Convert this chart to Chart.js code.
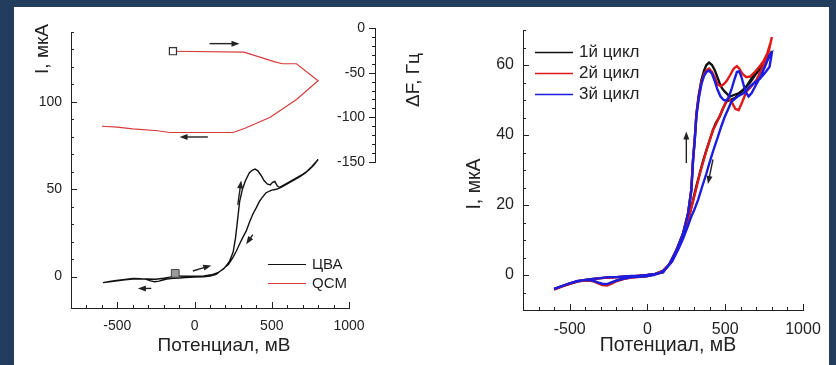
<!DOCTYPE html>
<html>
<head>
<meta charset="utf-8">
<script src="https://cdn.jsdelivr.net/npm/chart.js@4.4.0/dist/chart.umd.min.js"></script>
<style>
    body { margin: 0; background: #223d5e; }
    #sheet { position: absolute; left: 14px; top: 7px; width: 815px; height: 358px; background: #fff; }
    canvas { position: absolute; left: 0; top: 0; }
</style>
</head>
<body>
<div id="sheet"></div>
<canvas id="cva" width="836" height="365"></canvas>
<canvas id="qcm" width="836" height="365"></canvas>
<canvas id="cycles" width="836" height="365"></canvas>
<script>
// series names
const cvaName = 'ЦВА';
const qcmName = 'QCM';
const cycleNames = ['1й цикл', '2й цикл', '3й цикл'];

// tick labels
const potentialLabels = [-500, 0, 500, 1000];
const cvaCurrentLabels = [0, 50, 100];
const dfLabels = [0, -50, -100, -150];
const cycleCurrentLabels = [0, 20, 40, 60];

// left panel, CV scan: start -130 mV -> 800 -> -600 -> back to start
const cvaE = [-130, -60, 0, 60, 110, 150, 190, 225, 250, 265, 278, 292, 310, 330, 355, 375, 392, 410, 430, 450,
    470, 490, 505, 520, 535, 550, 580, 620, 660, 700, 740, 770, 800,
    760, 720, 680, 640, 600, 560, 530, 500, 463, 440, 420, 400, 377, 355, 334, 310, 291, 270, 248,
    220, 194, 165, 140, 100, 60, 0, -60, -100, -140, -180, -205, -230, -259, -285, -312, -350, -399, -450, -506,
    -550, -593, -550, -500, -450, -400, -350, -300, -250, -200, -160, -130];
const cvaI = [0.4, 0.2, 0.2, 0.4, 1, 2.2, 4.5, 8.5, 14, 22, 32, 43, 50, 55, 59.5, 61, 61.5, 60.5, 58, 55,
    53, 52.5, 54, 54.5, 52, 51, 52.5, 54.5, 56.5, 58.5, 61, 63.5, 67,
    63, 59.5, 57, 55, 53, 51, 50, 49.5, 48, 45.5, 43, 39.5, 35.7, 31, 26, 22, 18.5, 14.5, 10.8,
    7, 5, 3, 1.3, 0.3, -0.2, -0.3, -0.5, -0.8, -1, -1.5, -2, -2.6, -3, -2.5, -1.6, -1.2, -1.1, -1.6, -2.2,
    -2.8, -3.5, -3, -2.4, -1.8, -1.4, -1.3, -1.4, -1.5, -1, -0.3, 0.4];
const cvaStart = [{x: -125, y: 1.8}];

// left panel, quartz microbalance frequency shift
const qcmE = [-140, 320, 520, 570, 660, 800, 660, 490, 330, 250, -160, -240, -400, -500, -600];
const qcmF = [-26, -27, -38, -40, -40, -59, -80, -100, -112, -117, -117, -115, -113, -111, -110];

// right panel, three successive cycles (-600 -> 800 -> -600)
const cycle1E = [-600, -550, -500, -450, -400, -350, -300, -250, -200, -150, -100, -50, 0, 50, 100, 143, 186, 229, 261, 282,
    293, 304, 315, 330, 347, 365, 379, 396, 415, 432, 450, 464, 480, 497, 510, 530, 560, 590, 614, 660,
    700, 740, 764, 785, 800,
    785, 760, 721, 690, 660, 636, 600, 561, 530, 507, 485, 464, 440, 421, 400, 379, 357, 336, 315, 293,
    272, 250, 220, 190, 150, 100, 50, 0, -50, -100, -150, -200, -230, -260, -290, -320, -350, -400, -450, -500,
    -550, -600];
const cycle1I = [-4, -3.2, -2.4, -1.8, -1.4, -1.1, -0.9, -0.7, -0.6, -0.5, -0.4, -0.2, 0, 0.3, 0.8, 3.3, 7.1, 11.9, 17.6, 24.3,
    32.9, 38.6, 46.2, 51.5, 55.7, 58.5, 60, 60.7, 60, 58.6, 56.5, 54.8, 53.3, 52.4, 51.8, 51, 51.5, 52, 52.9, 55,
    57.6, 59.5, 61, 62.5, 64,
    62.5, 61.5, 59.5, 57.5, 55.5, 53.8, 52, 50.5, 50, 49.5, 47.5, 45.2, 43.5, 41.4, 38.5, 35.7, 32.5, 29, 25.5, 21.4,
    17.6, 14, 10, 7, 3.5, 1.2, 0.3, -0.3, -0.5, -0.6, -1, -1.6, -2.2, -2.8, -2.7, -2.2, -1.7, -1.5, -1.8, -2.5,
    -3.2, -4];

const cycle2E = [-600, -550, -500, -450, -400, -350, -300, -250, -200, -150, -100, -50, 0, 50, 100, 143, 186, 229, 261, 282,
    293, 304, 315, 330, 347, 365, 379, 396, 415, 432, 450, 470, 490, 510, 530, 555, 575, 590, 610, 635,
    660, 690, 720, 745, 770, 792, 800,
    770, 742, 720, 700, 660, 636, 610, 586, 565, 540, 518, 500, 470, 440, 421, 400, 379, 350, 336, 310,
    293, 272, 250, 220, 190, 150, 100, 50, 0, -50, -100, -150, -200, -230, -260, -290, -320, -350, -400, -450,
    -500, -550, -600];
const cycle2I = [-4.2, -3.3, -2.5, -1.9, -1.5, -1.2, -0.9, -0.7, -0.6, -0.5, -0.4, -0.2, 0, 0.3, 0.8, 3.3, 7, 11.8, 17.5, 24.5,
    33, 39, 46, 51, 55, 57.5, 58.5, 59, 58, 56.5, 54.5, 54, 54.5, 55.5, 57, 59, 59.7, 59, 57.5, 56.5,
    56.7, 58, 59.5, 61, 63.3, 66.5, 68,
    62, 59.5, 57.5, 55.7, 53.5, 52.4, 49.5, 47.1, 47.5, 49.5, 50.5, 49, 46, 43, 41.4, 38.5, 35.5, 31, 28.8, 24,
    21, 17.5, 14, 10, 7, 3.5, 1.2, 0.3, -0.3, -0.5, -0.7, -1.1, -1.8, -2.5, -3, -2.9, -2.3, -1.7, -1.5, -1.8,
    -2.5, -3.3, -4.2];

const cycle3E = [-600, -550, -500, -450, -400, -350, -300, -250, -200, -150, -100, -50, 0, 50, 100, 143, 186, 229, 261, 282,
    293, 304, 315, 330, 347, 365, 379, 396, 415, 432, 450, 470, 490, 505, 520, 540, 560, 575, 590, 605,
    620, 635, 650, 670, 700, 730, 760, 785, 800,
    785, 760, 721, 690, 657, 620, 580, 539, 520, 497, 475, 453, 430, 411, 395, 379, 350, 325, 300, 282,
    260, 230, 200, 160, 120, 80, 40, 0, -50, -100, -150, -200, -230, -260, -290, -320, -350, -400, -450, -500,
    -550, -600];
const cycle3I = [-4, -3.2, -2.4, -1.8, -1.4, -1.1, -0.9, -0.6, -0.6, -0.4, -0.3, -0.2, 0, 0.3, 0.8, 3.2, 7, 11.8, 17.5, 24,
    32.5, 38.5, 45.5, 50.5, 54.5, 57, 58, 58.4, 57.5, 55.5, 53, 51, 50, 49.8, 50.5, 53, 56, 58, 58.2, 56.5,
    54, 52, 51, 52, 54.5, 57, 60, 62.9, 63.5,
    59.5, 58, 56, 55, 53.8, 52, 51, 49.5, 47.5, 45.2, 42.5, 39.5, 36.5, 33.8, 31.5, 29, 25, 21.4, 18.5, 16.7,
    14, 10.5, 7.5, 4, 1.8, 0.6, 0, -0.3, -0.5, -0.6, -1, -1.6, -2.1, -2.6, -2.5, -2.1, -1.6, -1.4, -1.7, -2.4,
    -3.2, -4];

// scan direction arrows, [E, value] from -> to
const cvaArrows = [
    {from: [-280, -6.8], to: [-367, -6.8]},
    {from: [-11, 3.2], to: [108, 6.4]},
    {from: [280, 41], to: [302, 55]},
    {from: [377, 24], to: [334, 18.5]}
];
const qcmArrows = [
    {from: [97, -17.5], to: [291, -17.5]},
    {from: [86, -122], to: [-97, -122]}
];
const cycleArrows = [
    {from: [250, 32], to: [250, 41]},
    {from: [421, 33], to: [389, 26]}
];

const dfAxisAt = 1170; // E value where the frequency axis sits

const FONT = "'Liberation Sans', Arial, sans-serif";
const INK = '#222';
const CVA_COLOR = '#111';
const QCM_COLOR = '#d63a3a';
const cycleColors = ['#111', '#e01818', '#1c1ce0'];

Chart.defaults.font.family = FONT;
Chart.defaults.color = INK;

function pairs(xs, ys) {
    return xs.map((x, i) => ({x: x, y: ys[i]}));
}

function labelsFrom(list) {
    return v => list.includes(v) ? String(v) : '';
}

// Origin-style tick marks pointing into the plot, long on labelled values.
// A scale with `labels` gets its numbers written here too (free-standing axis).
const originTicks = {
    id: 'originTicks',
    afterDraw(chart, args, opts) {
        const {ctx, chartArea} = chart;
        ctx.save();
        ctx.strokeStyle = INK;
        ctx.fillStyle = INK;
        ctx.lineWidth = 1;
        Object.keys(opts.scales).forEach(id => {
            const cfg = opts.scales[id];
            const scale = chart.scales[id];
            let base;
            if (cfg.at !== undefined) base = chart.scales.x.getPixelForValue(cfg.at);
            else base = scale.isHorizontal() ? chartArea.bottom : chartArea.left;
            base = Math.round(base);
            scale.ticks.forEach(t => {
                const k = t.value / cfg.minor;
                if (Math.abs(k - Math.round(k)) > 1e-6) return;
                const len = t.value % cfg.major === 0 ? 6 : 3;
                const p = Math.round(scale.getPixelForValue(t.value)) + 0.5;
                ctx.beginPath();
                if (scale.isHorizontal()) {
                    ctx.moveTo(p, base);
                    ctx.lineTo(p, base - len);
                } else {
                    ctx.moveTo(base, p);
                    ctx.lineTo(base + cfg.dir * len, p);
                }
                ctx.stroke();
            });
            if (cfg.labels) {
                ctx.font = cfg.size + 'px ' + FONT;
                ctx.textAlign = 'right';
                ctx.textBaseline = 'middle';
                cfg.labels.forEach(v => {
                    ctx.fillText(String(v), base - cfg.gap, scale.getPixelForValue(v));
                });
            }
        });
        ctx.restore();
    }
};

const scanArrows = {
    id: 'scanArrows',
    afterDatasetsDraw(chart, args, opts) {
        const ctx = chart.ctx;
        const xs = chart.scales.x;
        const ys = chart.scales[opts.axis];
        ctx.save();
        ctx.strokeStyle = INK;
        ctx.fillStyle = INK;
        ctx.lineWidth = 1.4;
        opts.arrows.forEach(a => {
            const x0 = xs.getPixelForValue(a.from[0]), y0 = ys.getPixelForValue(a.from[1]);
            const x1 = xs.getPixelForValue(a.to[0]), y1 = ys.getPixelForValue(a.to[1]);
            const ang = Math.atan2(y1 - y0, x1 - x0);
            const c = Math.cos(ang), s = Math.sin(ang);
            ctx.beginPath();
            ctx.moveTo(x0, y0);
            ctx.lineTo(x1 - 5 * c, y1 - 5 * s);
            ctx.stroke();
            ctx.beginPath();
            ctx.moveTo(x1, y1);
            ctx.lineTo(x1 - 8 * c - 3 * s, y1 - 8 * s + 3 * c);
            ctx.lineTo(x1 - 8 * c + 3 * s, y1 - 8 * s - 3 * c);
            ctx.closePath();
            ctx.fill();
        });
        ctx.restore();
    }
};

const sideLegend = {
    id: 'sideLegend',
    afterDraw(chart, args, opts) {
        const ctx = chart.ctx;
        ctx.save();
        ctx.font = opts.size + 'px ' + FONT;
        ctx.textBaseline = 'middle';
        ctx.fillStyle = INK;
        opts.items.forEach((item, i) => {
            const y = Math.round(opts.y + i * opts.rowGap) + 0.5;
            ctx.strokeStyle = item.color;
            ctx.lineWidth = opts.lineWidth;
            ctx.beginPath();
            ctx.moveTo(opts.x, y);
            ctx.lineTo(opts.x + 38, y);
            ctx.stroke();
            ctx.fillText(item.text, opts.x + 44, y);
        });
        ctx.restore();
    }
};

const axisTitles = {
    id: 'axisTitles',
    afterDraw(chart, args, opts) {
        const ctx = chart.ctx;
        opts.items.forEach(t => {
            ctx.save();
            ctx.translate(t.x, t.y);
            ctx.rotate(t.rotate || 0);
            ctx.font = (t.size || 19) + 'px ' + FONT;
            ctx.fillStyle = INK;
            ctx.textAlign = 'center';
            ctx.textBaseline = 'middle';
            ctx.fillText(t.text, 0, 0);
            ctx.restore();
        });
    }
};

function potentialAxis(size) {
    return {
        type: 'linear',
        min: -800,
        max: 1000,
        grid: {display: false, drawTicks: false},
        border: {color: INK, width: 1},
        ticks: {
            stepSize: 100, autoSkip: false, maxRotation: 0, minRotation: 0, padding: 10,
            font: {size: size}, color: INK,
            callback: labelsFrom(potentialLabels)
        },
        afterFit: scale => { scale.height = 40; }
    };
}

function currentAxis(min, max, step, labels, size) {
    return {
        type: 'linear',
        min: min,
        max: max,
        grid: {display: false, drawTicks: false},
        border: {color: INK, width: 1},
        ticks: {
            stepSize: step, autoSkip: false, padding: 9,
            font: {size: size}, color: INK,
            callback: labelsFrom(labels)
        },
        afterFit: scale => { scale.width = 40; }
    };
}

const common = {
    responsive: false,
    animation: false,
    events: []
};

// left: current vs potential
new Chart(document.getElementById('cva'), {
    type: 'scatter',
    data: {
        datasets: [{
            label: 'start',
            data: cvaStart,
            pointStyle: 'rect',
            pointRadius: 5.5,
            pointBackgroundColor: '#9a9a9a',
            pointBorderColor: '#444',
            pointBorderWidth: 1
        }, {
            label: cvaName,
            data: pairs(cvaE, cvaI),
            showLine: true,
            borderColor: CVA_COLOR,
            borderWidth: 1.4,
            pointRadius: 0
        }]
    },
    options: {
        ...common,
        layout: {padding: {left: 31, right: 487, top: 32, bottom: 17}},
        scales: {
            x: potentialAxis(14),
            y: currentAxis(-18, 140, 10, cvaCurrentLabels, 14)
        },
        plugins: {
            legend: {display: false},
            tooltip: {enabled: false},
            originTicks: {scales: {x: {minor: 100, major: 500}, y: {minor: 10, major: 50, dir: 1}}},
            scanArrows: {axis: 'y', arrows: cvaArrows},
            sideLegend: {
                x: 268, y: 264, rowGap: 19, lineWidth: 1, size: 15,
                items: [{text: cvaName, color: CVA_COLOR}, {text: qcmName, color: QCM_COLOR}]
            },
            axisTitles: {
                items: [
                    {text: 'Потенциал, мВ', x: 224, y: 346},
                    {text: 'I, мкА', x: 43, y: 49, rotate: -Math.PI / 2}
                ]
            }
        }
    },
    plugins: [originTicks, scanArrows, sideLegend, axisTitles]
});

// left, upper part: frequency shift on its own axis, same potential scale
new Chart(document.getElementById('qcm'), {
    type: 'scatter',
    data: {
        datasets: [{
            label: qcmName,
            data: pairs(qcmE, qcmF),
            yAxisID: 'df',
            showLine: true,
            borderColor: QCM_COLOR,
            borderWidth: 1.2,
            pointStyle: 'rect',
            pointRadius: ctx => ctx.dataIndex === 0 ? 5 : 0,
            pointBackgroundColor: '#fff',
            pointBorderColor: '#333',
            pointBorderWidth: 1.2
        }]
    },
    options: {
        ...common,
        layout: {padding: {left: 71, right: 487, top: 28, bottom: 203}},
        scales: {
            x: {type: 'linear', min: -800, max: 1000, display: false},
            df: {
                type: 'linear',
                position: {x: dfAxisAt},
                min: -150,
                max: 0,
                grid: {display: false, drawTicks: false},
                border: {color: INK, width: 1},
                ticks: {stepSize: 10, display: false}
            }
        },
        plugins: {
            legend: {display: false},
            tooltip: {enabled: false},
            originTicks: {
                scales: {df: {minor: 10, major: 50, dir: -1, at: dfAxisAt, labels: dfLabels, gap: 10, size: 14}}
            },
            scanArrows: {axis: 'df', arrows: qcmArrows},
            axisTitles: {
                items: [{text: 'ΔF, Гц', x: 414, y: 80, rotate: -Math.PI / 2}]
            }
        }
    },
    plugins: [originTicks, scanArrows, axisTitles]
});

// right: three cycles, the last one drawn on top
const cycleSeries = [[cycle1E, cycle1I], [cycle2E, cycle2I], [cycle3E, cycle3I]];
new Chart(document.getElementById('cycles'), {
    type: 'scatter',
    data: {
        datasets: cycleSeries.map((s, i) => ({
            label: cycleNames[i],
            data: pairs(s[0], s[1]),
            showLine: true,
            borderColor: cycleColors[i],
            borderWidth: 2.4,
            pointRadius: 0,
            order: 3 - i
        }))
    },
    options: {
        ...common,
        layout: {padding: {left: 483, right: 33, top: 30, bottom: 15}},
        scales: {
            x: potentialAxis(16),
            y: currentAxis(-10, 70, 5, cycleCurrentLabels, 16)
        },
        plugins: {
            legend: {display: false},
            tooltip: {enabled: false},
            originTicks: {scales: {x: {minor: 100, major: 500}, y: {minor: 5, major: 20, dir: 1}}},
            scanArrows: {axis: 'y', arrows: cycleArrows},
            sideLegend: {
                x: 535, y: 52, rowGap: 21, lineWidth: 1.5, size: 17,
                items: cycleNames.map((n, i) => ({text: n, color: cycleColors[i]}))
            },
            axisTitles: {
                items: [
                    {text: 'Потенциал, мВ', x: 668, y: 346, size: 19.5},
                    {text: 'I, мкА', x: 475, y: 184, rotate: -Math.PI / 2, size: 19.5}
                ]
            }
        }
    },
    plugins: [originTicks, scanArrows, sideLegend, axisTitles]
});
</script>
</body>
</html>
